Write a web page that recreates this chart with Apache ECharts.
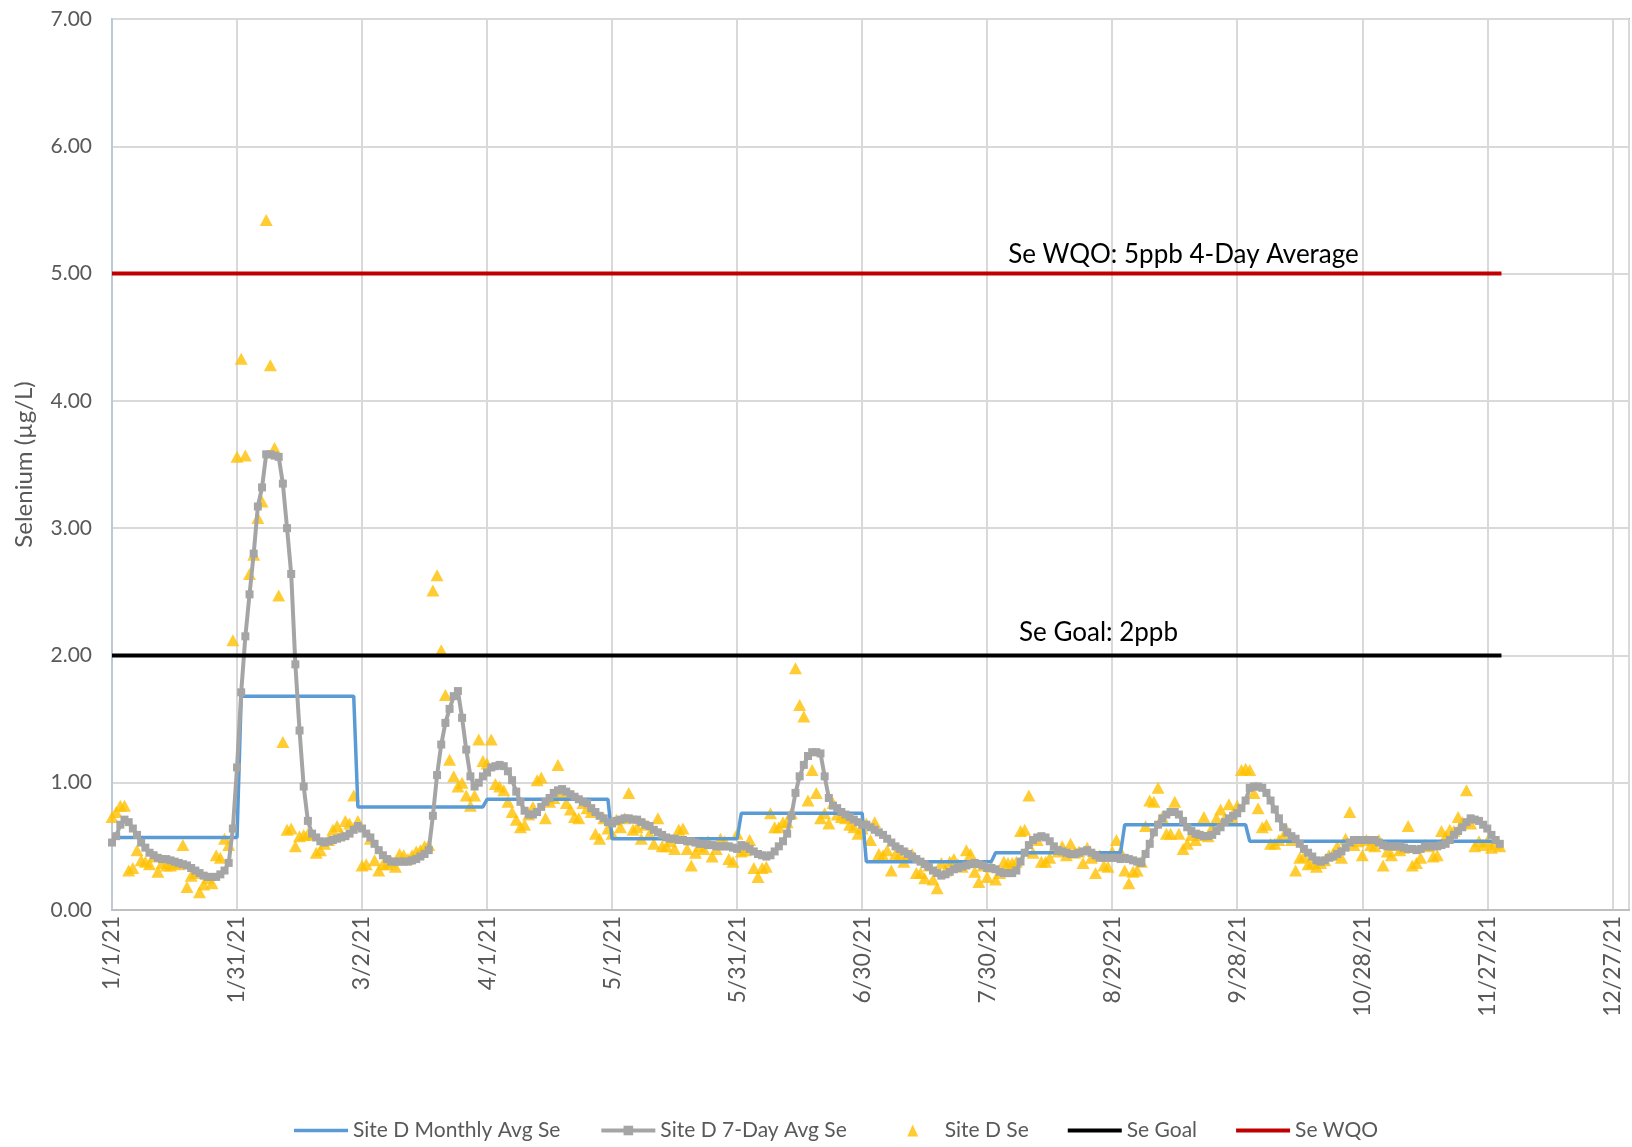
<!DOCTYPE html>
<html>
<head>
<meta charset="utf-8">
<script src="https://cdn.jsdelivr.net/npm/echarts/dist/echarts.min.js"></script>
<style>
html,body{margin:0;padding:0;background:#fff;}
#chart{width:1632px;height:1147px;}
</style>
</head>
<body>
<div id="chart"></div>
<script>
// x tick labels (every 30 days from 1/1/21)
const tickLabels = ['1/1/21','1/31/21','3/2/21','4/1/21','5/1/21','5/31/21','6/30/21','7/30/21','8/29/21','9/28/21','10/28/21','11/27/21','12/27/21'];

// Monthly averages (first/last day index of each month, day 0 = 1/1/21)
const monthStart = [0,31,59,90,120,151,181,212,243,273,304];
const monthEnd   = [30,58,89,119,150,180,211,242,272,303,333];
const monthlyAvg = [0.57,1.68,0.81,0.87,0.56,0.76,0.38,0.45,0.67,0.54,0.54];

// 7-day average, daily from 1/1/21
const avg7 = [
  0.53,0.58,0.67,0.71,0.69,0.64,0.59,0.53,0.49,0.45,0.43,0.41,0.40,0.40,0.39,0.38,0.37,0.36,0.35,0.33,0.31,0.29,0.27,0.26,0.26,0.26,0.28,0.31,0.37,0.64,1.12,
  1.71,2.15,2.48,2.80,3.17,3.32,3.58,3.58,3.57,3.56,3.35,3.00,2.64,1.93,1.41,0.97,0.70,0.60,0.57,0.54,0.53,0.54,0.55,0.56,0.57,0.58,0.60,0.63,
  0.66,0.64,0.60,0.57,0.52,0.47,0.43,0.40,0.38,0.38,0.38,0.38,0.38,0.39,0.40,0.42,0.44,0.47,0.74,1.06,1.30,1.47,1.58,1.68,1.72,1.51,1.26,1.05,0.97,1.00,1.05,
  1.08,1.12,1.13,1.14,1.13,1.09,1.02,0.93,0.85,0.78,0.75,0.75,0.77,0.81,0.85,0.88,0.92,0.94,0.95,0.93,0.91,0.89,0.87,0.85,0.84,0.80,0.77,0.74,0.72,0.69,
  0.68,0.70,0.71,0.72,0.72,0.71,0.71,0.69,0.67,0.66,0.63,0.61,0.59,0.57,0.56,0.56,0.55,0.55,0.54,0.54,0.53,0.52,0.52,0.51,0.51,0.50,0.50,0.50,0.50,0.49,0.48,
  0.51,0.50,0.48,0.46,0.44,0.43,0.42,0.43,0.46,0.50,0.54,0.60,0.74,0.92,1.05,1.14,1.21,1.24,1.24,1.23,1.05,0.88,0.82,0.80,0.77,0.75,0.73,0.71,0.69,0.67,
  0.67,0.65,0.63,0.61,0.59,0.56,0.53,0.50,0.48,0.46,0.44,0.42,0.40,0.38,0.36,0.34,0.31,0.29,0.27,0.28,0.30,0.32,0.33,0.34,0.35,0.36,0.37,0.36,0.35,0.33,0.33,
  0.32,0.30,0.29,0.29,0.29,0.31,0.38,0.45,0.51,0.55,0.57,0.58,0.57,0.54,0.50,0.47,0.46,0.45,0.44,0.44,0.45,0.46,0.47,0.45,0.43,0.41,0.41,0.41,0.41,0.41,0.40,
  0.41,0.40,0.39,0.38,0.37,0.44,0.52,0.61,0.67,0.72,0.75,0.77,0.77,0.75,0.70,0.65,0.62,0.60,0.59,0.58,0.58,0.59,0.62,0.65,0.69,0.72,0.74,0.76,0.80,0.86,
  0.96,0.97,0.97,0.96,0.92,0.86,0.79,0.72,0.65,0.61,0.58,0.56,0.52,0.48,0.45,0.42,0.39,0.38,0.39,0.41,0.42,0.44,0.46,0.49,0.53,0.55,0.55,0.55,0.55,0.55,0.55,
  0.53,0.51,0.50,0.50,0.50,0.50,0.49,0.48,0.48,0.47,0.48,0.50,0.50,0.50,0.50,0.51,0.52,0.55,0.59,0.62,0.65,0.69,0.72,0.71,0.70,0.67,0.64,0.59,0.55,0.52
];

// Site D Se samples, daily from 1/1/21
const siteSe = [
  0.73,0.77,0.82,0.82,0.31,0.33,0.47,0.39,0.38,0.36,0.42,0.30,0.37,0.35,0.35,0.37,0.36,0.51,0.18,0.27,0.29,0.14,0.20,0.25,0.21,0.43,0.41,0.56,0.51,2.12,3.56,
  4.33,3.57,2.64,2.79,3.08,3.21,5.42,4.28,3.63,2.47,1.32,0.63,0.64,0.50,0.58,0.59,0.60,0.59,0.45,0.47,0.52,0.55,0.63,0.66,0.60,0.70,0.68,0.90,
  0.70,0.35,0.36,0.56,0.39,0.31,0.36,0.36,0.38,0.34,0.44,0.43,0.40,0.43,0.46,0.47,0.50,0.51,2.51,2.63,2.04,1.69,1.18,1.05,0.97,1.00,0.90,0.82,0.90,1.34,1.17,
  1.15,1.34,0.99,0.97,0.94,0.85,0.77,0.71,0.65,0.67,0.75,0.81,1.02,1.04,0.72,0.85,0.88,1.14,0.92,0.84,0.79,0.73,0.72,0.84,0.80,0.77,0.60,0.56,0.72,0.64,
  0.60,0.71,0.65,0.72,0.92,0.63,0.65,0.56,0.67,0.60,0.52,0.72,0.50,0.50,0.54,0.48,0.63,0.64,0.48,0.35,0.45,0.50,0.48,0.54,0.42,0.48,0.56,0.54,0.40,0.38,0.60,
  0.46,0.47,0.55,0.33,0.26,0.33,0.34,0.76,0.65,0.65,0.69,0.69,0.76,1.90,1.61,1.52,0.86,1.10,0.92,0.72,0.76,0.68,0.84,0.75,0.73,0.72,0.67,0.65,0.60,0.64,
  0.68,0.55,0.69,0.44,0.43,0.47,0.31,0.44,0.43,0.38,0.44,0.44,0.29,0.29,0.25,0.35,0.24,0.17,0.37,0.31,0.38,0.40,0.36,0.34,0.47,0.44,0.30,0.22,0.35,0.26,0.34,
  0.24,0.29,0.38,0.37,0.37,0.38,0.62,0.63,0.90,0.45,0.55,0.38,0.38,0.41,0.49,0.46,0.50,0.43,0.52,0.45,0.46,0.37,0.49,0.41,0.29,0.43,0.35,0.34,0.46,0.55,0.46,
  0.31,0.21,0.30,0.31,0.38,0.66,0.86,0.85,0.96,0.73,0.60,0.60,0.85,0.60,0.48,0.52,0.59,0.55,0.59,0.73,0.58,0.65,0.72,0.79,0.72,0.83,0.71,0.82,1.10,1.11,
  1.10,0.92,0.80,0.65,0.67,0.52,0.52,0.55,0.58,0.62,0.55,0.31,0.41,0.42,0.36,0.37,0.34,0.37,0.39,0.43,0.44,0.50,0.41,0.56,0.77,0.51,0.54,0.43,0.55,0.51,0.50,
  0.55,0.35,0.46,0.43,0.51,0.47,0.49,0.66,0.35,0.37,0.41,0.51,0.50,0.42,0.43,0.62,0.58,0.63,0.62,0.73,0.69,0.94,0.68,0.50,0.54,0.51,0.54,0.49,0.52,0.50
];

// Reference lines
const refDays = [0, 333.4];
const goalValue = 2;
const wqoValue = 5;
const goalLabel = 'Se Goal: 2ppb';
const wqoLabel = 'Se WQO: 5ppb 4-Day Average';

const FONT = 'Lato, "Open Sans", sans-serif';
const GRAY = '#595959';

const monthlyData = [];
monthlyAvg.forEach((v, i) => { monthlyData.push([monthStart[i], v]); monthlyData.push([monthEnd[i], v]); });
const avgData = avg7.map((v, i) => [i, v]);
const seData = siteSe.map((v, i) => [i, v]).filter(d => d[1] != null);

const chart = echarts.init(document.getElementById('chart'), null, {renderer: 'canvas'});
chart.setOption({
  animation: false,
  backgroundColor: '#fff',
  grid: {left: 112, right: 3, top: 19, bottom: 237, show: true, borderColor: '#8DB7E2', borderWidth: 2, backgroundColor: 'transparent'},
  legend: {
    left: 289, top: 1115,
    itemWidth: 54, itemHeight: 12, itemGap: 39,
    textStyle: {fontFamily: FONT, fontSize: 21, color: GRAY},
    data: [
      {name: 'Site D Monthly Avg Se', icon: 'path://M0,0H54V3.5H0Z'},
      {name: 'Site D 7-Day Avg Se', lineStyle: {width: 4, color: '#A5A5A5'}},
      {name: 'Site D Se', icon: 'path://M0,0M54,12M21.5,12L27,0L32.5,12Z'},
      {name: 'Se Goal', icon: 'path://M0,0H54V4H0Z'},
      {name: 'Se WQO', icon: 'path://M0,0H54V4H0Z'}
    ]
  },
  xAxis: {
    type: 'value', min: 0, max: 364, interval: 30,
    axisLine: {show: true, onZero: false, lineStyle: {color: '#BFBFBF', width: 2}},
    axisTick: {show: false},
    splitLine: {show: true, lineStyle: {color: '#D9D9D9', width: 2}},
    axisLabel: {
      rotate: 90, margin: 6, fontFamily: FONT, fontSize: 23, color: GRAY,
      showMaxLabel: false,
      formatter: v => (v % 30 === 0 ? (tickLabels[v / 30] || '') : '')
    }
  },
  yAxis: {
    type: 'value', min: 0, max: 7, interval: 1,
    name: 'Selenium (µg/L)', nameLocation: 'middle', nameRotate: 90, nameGap: 76,
    nameTextStyle: {fontFamily: FONT, fontSize: 24, color: GRAY},
    axisLine: {show: true, lineStyle: {color: '#BFC9D6', width: 2}},
    axisTick: {show: false},
    splitLine: {show: true, lineStyle: {color: '#D9D9D9', width: 2}},
    axisLabel: {margin: 20, fontFamily: FONT, fontSize: 21, color: GRAY, formatter: v => v.toFixed(2)}
  },
  series: [
    {
      name: 'Site D Monthly Avg Se', type: 'line', data: monthlyData,
      symbol: 'none', lineStyle: {color: '#5B9BD5', width: 3.5}, itemStyle: {color: '#5B9BD5'}
    },
    {
      name: 'Site D 7-Day Avg Se', type: 'line', data: avgData,
      symbol: 'rect', symbolSize: 8, showAllSymbol: true,
      lineStyle: {color: '#A5A5A5', width: 4}, itemStyle: {color: '#A5A5A5'}
    },
    {
      name: 'Site D Se', type: 'scatter', data: seData,
      symbol: 'triangle', symbolSize: [13, 12], itemStyle: {color: '#FFC000'}
    },
    {
      name: 'Se Goal', type: 'line', data: refDays.map(d => [d, goalValue]),
      symbol: 'none', lineStyle: {color: '#000000', width: 4}, itemStyle: {color: '#000000'},
      markPoint: {
        symbol: 'circle', symbolSize: 1, itemStyle: {color: 'rgba(0,0,0,0)'},
        label: {show: true, position: 'top', distance: 7, formatter: goalLabel, fontFamily: FONT, fontSize: 26, lineHeight: 30, color: '#000'},
        data: [{coord: [236.7, goalValue]}]
      }
    },
    {
      name: 'Se WQO', type: 'line', data: refDays.map(d => [d, wqoValue]),
      symbol: 'none', lineStyle: {color: '#C00000', width: 4}, itemStyle: {color: '#C00000'},
      markPoint: {
        symbol: 'circle', symbolSize: 1, itemStyle: {color: 'rgba(0,0,0,0)'},
        label: {show: true, position: 'top', distance: 3, formatter: wqoLabel, fontFamily: FONT, fontSize: 26, lineHeight: 30, color: '#000'},
        data: [{coord: [257.1, wqoValue]}]
      }
    }
  ]
});
</script>
</body>
</html>
